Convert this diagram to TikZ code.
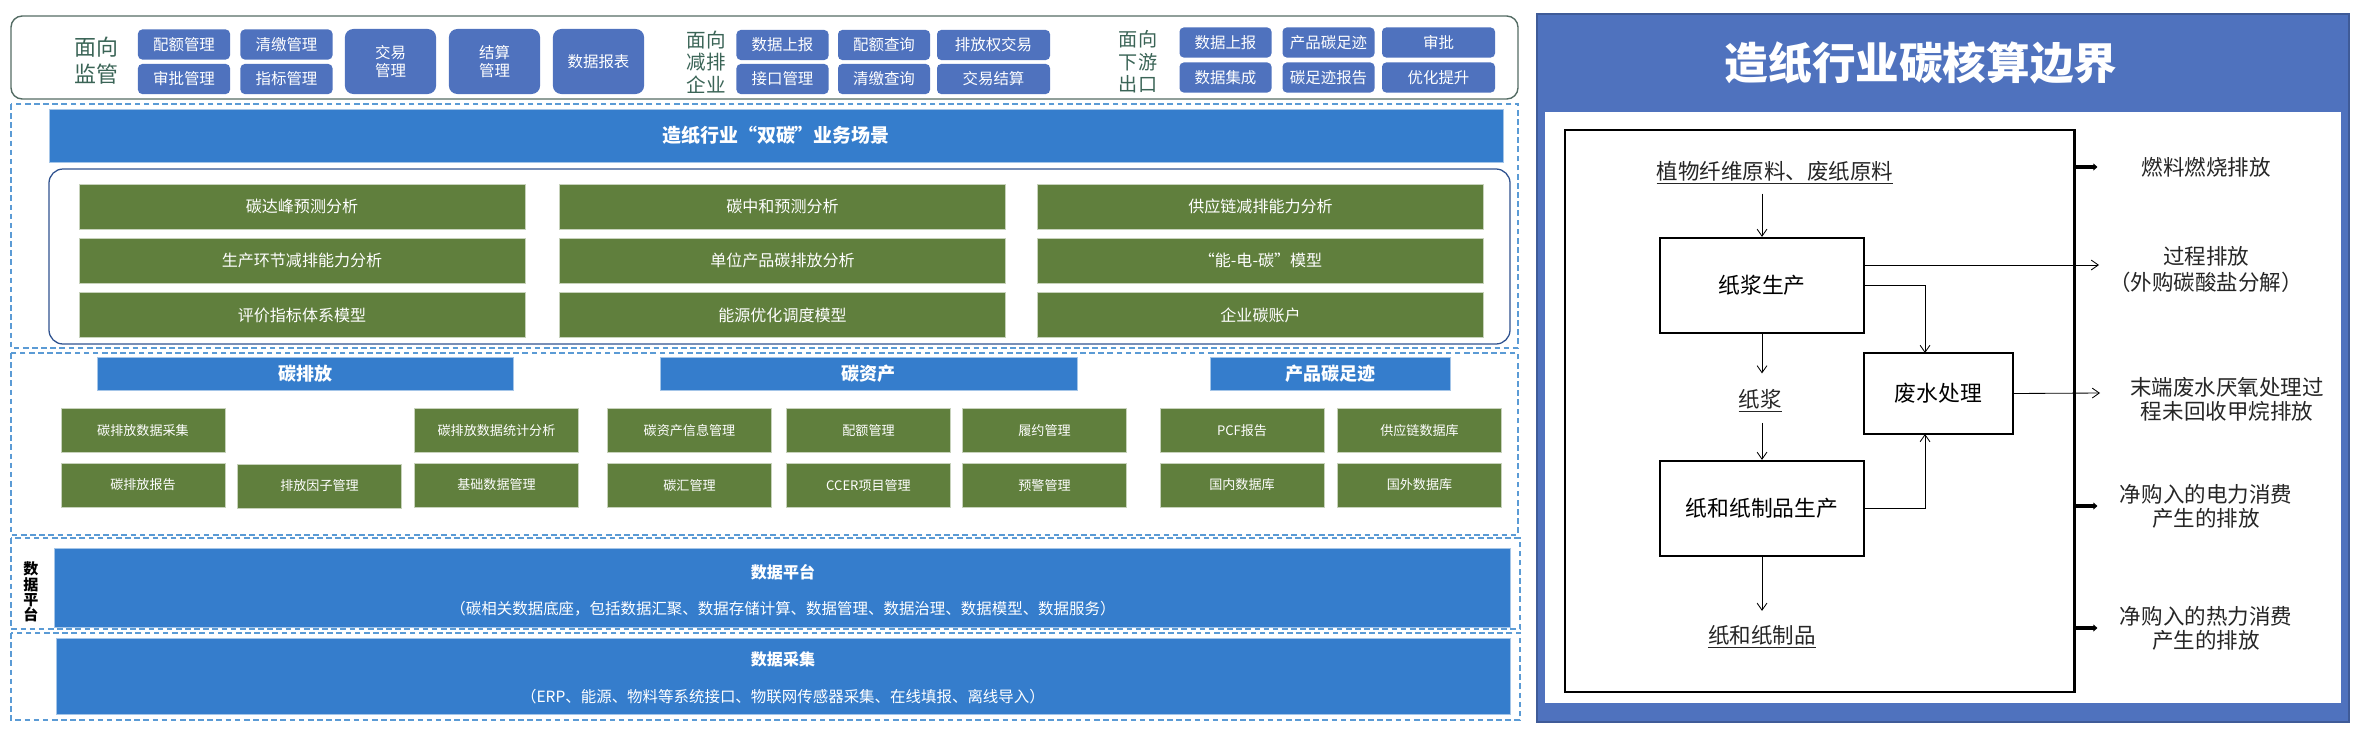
\documentclass[tikz,border=0pt]{standalone}
\usepackage{fontspec}
\setmainfont{Noto Sans CJK SC}
\usetikzlibrary{arrows.meta}

\definecolor{tileblue}{RGB}{79,114,190}
\definecolor{barblue}{RGB}{53,125,204}
\definecolor{leafgreen}{RGB}{96,127,61}
\definecolor{dashblue}{RGB}{91,155,213}
\definecolor{framenavy}{RGB}{47,82,143}
\definecolor{tealtext}{RGB}{58,100,86}
\definecolor{slateline}{RGB}{84,108,100}
\definecolor{inkgray}{RGB}{38,38,38}

\tikzset{
  tile/.style={fill=tileblue, rounded corners=3pt, text=white, inner sep=0pt, align=center,
    minimum width=2.3cm, minimum height=0.75cm, font=\fontsize{11}{13}\selectfont},
  widetile/.style={tile, minimum width=2.825cm},
  bigtile/.style={tile, rounded corners=6pt, minimum width=2.28cm, minimum height=1.625cm},
  facing/.style={text=tealtext, align=center, inner sep=0pt},
  scene/.style={fill=leafgreen, draw=leafgreen!35!white, text=white, inner sep=0pt,
    minimum width=11.15cm, minimum height=1.125cm, font=\fontsize{11.4}{13}\selectfont},
  module/.style={fill=leafgreen, draw=leafgreen!35!white, text=white, inner sep=0pt,
    minimum width=4.1cm, minimum height=1.11cm, font=\fontsize{9.3}{11}\selectfont},
  bar/.style={fill=barblue, draw=barblue!45!white, text=white, inner sep=0pt, align=center,
    minimum height=0.825cm, font=\bfseries\fontsize{12.8}{15}\selectfont},
  bartext/.style={text=white, inner sep=0pt, font=\fontsize{11}{13}\selectfont},
  layer/.style={draw=dashblue, line width=1pt, dash pattern=on 4pt off 2.5pt},
  procbox/.style={draw=black, line width=1.6pt, inner sep=0pt, minimum width=5.1cm,
    minimum height=2.375cm, font=\fontsize{15.5}{18}\selectfont},
  flow/.style={-{Straight Barb[length=5pt,width=7pt]}, line width=0.6pt},
  emit/.style={-{Triangle[length=3pt,width=5pt]}, line width=3pt},
  note/.style={text=inkgray, align=center, font=\fontsize{15.3}{17}\selectfont},
}

\begin{document}
\begin{tikzpicture}[x=0.025cm, y=-0.025cm]
    \useasboundingbox (0,0) rectangle (2364,744);

    % 1. Khung tren: cac doi tuong phuc vu
    \draw[slateline, line width=1pt, rounded corners=8pt] (11,16) rectangle (1518,99);
    \node[facing, font=\fontsize{15.6}{19}\selectfont] (sup) at (96,61) {面向\\监管};
    \node[tile] (s1) at (184,44.5) {配额管理};
    \node[tile] (s2) at (184,79) {审批管理};
    \node[tile] (s3) at (286.5,44.5) {清缴管理};
    \node[tile] (s4) at (286.5,79) {指标管理};
    \node[bigtile] (s5) at (390.5,61.5) {交易\\管理};
    \node[bigtile] (s6) at (494.5,61.5) {结算\\管理};
    \node[bigtile] (s7) at (598.5,61.5) {数据报表};

    \node[facing, font=\fontsize{13.9}{16}\selectfont] (ent) at (706,62) {面向\\减排\\企业};
    \node[tile] (e1) at (782.5,45) {数据上报};
    \node[tile] (e2) at (782.5,79) {接口管理};
    \node[tile] (e3) at (884,45) {配额查询};
    \node[tile] (e4) at (884,79) {清缴查询};
    \node[widetile] (e5) at (993.5,45) {排放权交易};
    \node[widetile] (e6) at (993.5,79) {交易结算};

    \node[facing, font=\fontsize{13.6}{16}\selectfont] (down) at (1138,62) {面向\\下游\\出口};
    \node[tile] (d1) at (1225.5,42.5) {数据上报};
    \node[tile] (d2) at (1225.5,77.5) {数据集成};
    \node[tile] (d3) at (1328.5,42.5) {产品碳足迹};
    \node[tile] (d4) at (1328.5,77.5) {碳足迹报告};
    \node[widetile] (d5) at (1438.5,42.5) {审批};
    \node[widetile] (d6) at (1438.5,77.5) {优化提升};

    % 2. Tang nghiep vu: "双碳" scenario
    \draw[layer] (11,104) rectangle (1518,348);
    \node[bar, minimum width=36.35cm, minimum height=1.325cm, font=\bfseries\fontsize{13.5}{15}\selectfont] (scenario) at (776,135.5) {造纸行业“双碳”业务场景};
    \draw[framenavy, line width=0.9pt, rounded corners=10pt] (49,169) rectangle (1510,344);
    \node[scene] (a1) at (302,206.5) {碳达峰预测分析};
    \node[scene] (a2) at (302,260.5) {生产环节减排能力分析};
    \node[scene] (a3) at (302,315) {评价指标体系模型};
    \node[scene] (b1) at (782.5,206.5) {碳中和预测分析};
    \node[scene] (b2) at (782.5,260.5) {单位产品碳排放分析};
    \node[scene] (b3) at (782.5,315) {能源优化调度模型};
    \node[scene] (c1) at (1260.5,206.5) {供应链减排能力分析};
    \node[scene] (c2) at (1260.5,260.5) {“能-电-碳”模型};
    \node[scene] (c3) at (1260.5,315) {企业碳账户};

    % 3. Tang ung dung: 碳排放 / 碳资产 / 产品碳足迹
    \draw[layer] (11,353) rectangle (1518,535);
    \node[bar, minimum width=10.4cm] (emission) at (305,373.5) {碳排放};
    \node[bar, minimum width=10.425cm] (asset) at (868.5,373.5) {碳资产};
    \node[bar, minimum width=6cm] (footprint) at (1330,373.5) {产品碳足迹};

    \node[module] (m1) at (143,430.5) {碳排放数据采集};
    \node[module] (m2) at (143,485) {碳排放报告};
    \node[module] (m3) at (319.5,486) {排放因子管理};
    \node[module] (m4) at (496.5,430.5) {碳排放数据统计分析};
    \node[module] (m5) at (496.5,485) {基础数据管理};
    \node[module] (m6) at (689.5,430.5) {碳资产信息管理};
    \node[module] (m7) at (689.5,485) {碳汇管理};
    \node[module] (m8) at (868.5,430.5) {配额管理};
    \node[module] (m9) at (868.5,485) {CCER项目管理};
    \node[module] (m10) at (1044.5,430.5) {履约管理};
    \node[module] (m11) at (1044.5,485) {预警管理};
    \node[module] (m12) at (1242,430.5) {PCF报告};
    \node[module] (m13) at (1242,485) {国内数据库};
    \node[module] (m14) at (1419.5,430.5) {供应链数据库};
    \node[module] (m15) at (1419.5,485) {国外数据库};

    % 4. Tang du lieu
    \draw[layer] (11,538) rectangle (1520,629);
    \node[align=center, inner sep=0pt, font=\bfseries\fontsize{10.7}{11}\selectfont] (vlabel) at (31,592) {数\\据\\平\\台};
    \node[bar, minimum width=36.4cm, minimum height=1.975cm] (platform) at (782,587.5) {};
    \node[bartext, font=\bfseries\fontsize{11.4}{13}\selectfont] (platformtitle) at (783,572) {数据平台};
    \node[bartext] (platformnote) at (783,609) {（碳相关数据底座，包括数据汇聚、数据存储计算、数据管理、数据治理、数据模型、数据服务）};

    \draw[layer] (11,633) rectangle (1520,720);
    \node[bar, minimum width=36.35cm, minimum height=1.9cm] (collect) at (783,676) {};
    \node[bartext, font=\bfseries\fontsize{11.4}{13}\selectfont] (collecttitle) at (783,659) {数据采集};
    \node[bartext] (collectnote) at (783,697) {（ERP、能源、物料等系统接口、物联网传感器采集、在线填报、离线导入）};

    % 5. Khung phai: 造纸行业碳核算边界
    \draw[fill=tileblue, draw=tileblue!80!black, line width=1pt] (1537,14) rectangle (2349,722);
    \fill[white] (1545,112) rectangle (2341,703);
    \node[text=white, font=\bfseries\fontsize{31}{36}\selectfont] (title) at (1921,63) {造纸行业碳核算边界};
    \node[draw, line width=2pt, inner sep=0pt, minimum width=12.725cm, minimum height=14.05cm] (bound) at (1819.5,411) {};

    \node[note] (raw) at (1775,173) {\underline{植物纤维原料、废纸原料}};
    \node[procbox] (pulping) at (1762,285.5) {纸浆生产};
    \node[note] (pulp) at (1760,401) {\underline{纸浆}};
    \node[procbox] (papermaking) at (1762,508.5) {纸和纸制品生产};
    \node[note] (paper) at (1762,637) {\underline{纸和纸制品}};
    \node[procbox, minimum width=3.725cm, minimum height=2.025cm] (wastewater) at (1938.5,393.5) {废水处理};

    \coordinate (wwin) at (1925,353);
    \coordinate (wwback) at (1925,434);
    \coordinate (proctip) at (2099,265);
    \coordinate (wwtip) at (2100,393);

    % cac mui ten dong vat lieu
    \draw[flow, shorten <=3pt] (raw.south -| pulping.north) -- (pulping.north);
    \draw[flow, shorten >=8pt] (pulping.south) -- (pulping.south |- pulp.north);
    \draw[flow, shorten <=4pt] (pulp.south -| papermaking.north) -- (papermaking.north);
    \draw[flow, shorten >=7pt] (papermaking.south) -- (papermaking.south |- paper.north);
    \draw[flow] (pulping.east |- proctip) -- (proctip);
    \draw[flow] (pulping.east) -| (wwin);
    \draw[flow] (papermaking.east) -| (wwback);
    \draw[flow] (wastewater.east) -- (wwtip);

    % nguon phat thai
    \node[note] (fuel) at (2206,167) {燃料燃烧排放};
    \node[note, font=\fontsize{15.3}{18.5}\selectfont] (process) at (2206,269) {过程排放\\（外购碳酸盐分解）};
    \node[note] (methane) at (2227,399) {末端废水厌氧处理过\\程未回收甲烷排放};
    \node[note] (power) at (2206,506) {净购入的电力消费\\产生的排放};
    \node[note] (heat) at (2206,628) {净购入的热力消费\\产生的排放};

    \draw[emit] (bound.east |- fuel.west) -- ++(22,0);
    \draw[emit] (bound.east |- power.west) -- ++(22,0);
    \draw[emit] (bound.east |- heat.west) -- ++(22,0);

\end{tikzpicture}
\end{document}
